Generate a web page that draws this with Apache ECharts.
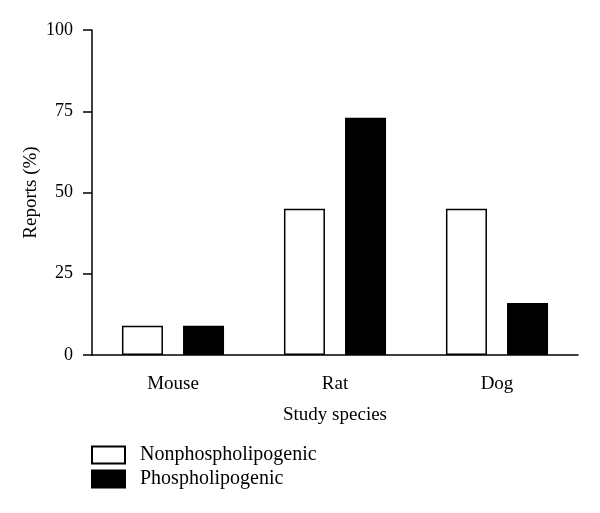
<!DOCTYPE html>
<html><head><meta charset="utf-8">
<script src="https://cdn.jsdelivr.net/npm/echarts@6/dist/echarts.min.js"></script>
<style>html,body{margin:0;padding:0;background:#fff}#c{width:600px;height:513px}</style>
</head><body><div id="c"></div>
<script>
var categories = ['Mouse', 'Rat', 'Dog'];
var nonphospholipogenic = [9, 45, 45];
var phospholipogenic = [9, 73, 16];
var yTicks = [0, 25, 50, 75, 100];

var FONT = 'Liberation Serif';
var chart = echarts.init(document.getElementById('c'));
chart.setOption({
  animation: false,
  backgroundColor: '#fff',
  textStyle: { fontFamily: FONT },
  grid: { left: 92, right: 22, top: 30, bottom: 158, containLabel: false },
  legend: {
    orient: 'vertical', left: 91, top: 445, padding: 0,
    itemWidth: 33, itemHeight: 17, itemGap: 4,
    icon: 'rect',
    textStyle: { fontFamily: FONT, fontSize: 20, color: '#000', padding: [0, 0, 0, 10] },
    data: ['Nonphospholipogenic', 'Phospholipogenic']
  },
  xAxis: {
    type: 'category', data: categories,
    name: 'Study species', nameLocation: 'middle', nameGap: 51, nameMoveOverlap: false,
    nameTextStyle: { fontFamily: FONT, fontSize: 19, color: '#000' },
    axisLine: { lineStyle: { color: '#000', width: 1.5 } },
    axisTick: { alignWithLabel: true, length: 8, lineStyle: { color: '#000', width: 1.5 } },
    axisLabel: { fontFamily: FONT, fontSize: 19, color: '#000', margin: 20 },
    splitLine: { show: false }
  },
  yAxis: {
    type: 'value', min: 0, max: 100, interval: 25,
    name: 'Reports (%)', nameLocation: 'middle', nameGap: 51, nameRotate: 90, nameMoveOverlap: false,
    nameTextStyle: { fontFamily: FONT, fontSize: 19, color: '#000' },
    axisLine: { show: true, lineStyle: { color: '#000', width: 1.5 } },
    axisTick: { show: true, length: 9, lineStyle: { color: '#000', width: 1.5 } },
    axisLabel: { fontFamily: FONT, fontSize: 18, color: '#000', margin: 19,
      formatter: function (v) { return yTicks.indexOf(v) >= 0 ? String(v) : ''; } },
    splitLine: { show: false }
  },
  series: [
    { name: 'Nonphospholipogenic', type: 'bar', data: nonphospholipogenic,
      barWidth: 41, barGap: '49%',
      itemStyle: { color: '#fff', borderColor: '#000', borderWidth: 1.5 } },
    { name: 'Phospholipogenic', type: 'bar', data: phospholipogenic,
      barWidth: 41, barGap: '49%',
      itemStyle: { color: '#000', borderColor: '#000', borderWidth: 1.5 } }
  ]
});
</script></body></html>
